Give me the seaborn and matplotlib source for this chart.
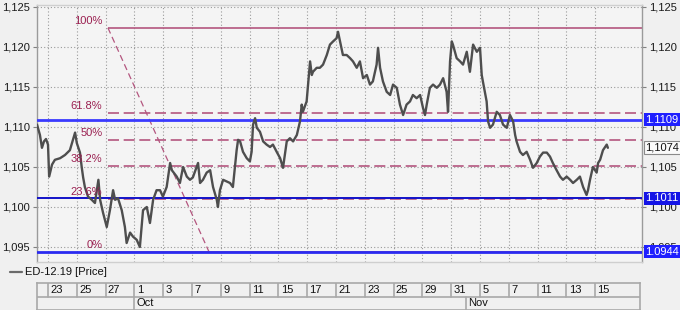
import matplotlib
matplotlib.use("Agg")
import matplotlib.pyplot as plt
import seaborn as sns
import pandas as pd
from matplotlib.ticker import FuncFormatter

# ---------------- data ----------------
# time position (in date-label steps, 0 = "23" Sep) and price
bar_pos = [-0.38, -0.28, -0.21, -0.14, -0.07, 0.0, 0.04, 0.14, 0.24, 0.42, 0.59, 0.76, 0.94, 1.0,
           1.11, 1.17, 1.22, 1.28, 1.39, 1.52, 1.63, 1.75, 1.81, 1.91, 2.04, 2.15, 2.26, 2.33,
           2.43, 2.56, 2.67, 2.73, 2.85, 2.95, 3.08, 3.19, 3.30, 3.43, 3.54, 3.65, 3.77, 3.89,
           3.99, 4.12, 4.24, 4.30, 4.47, 4.58, 4.69, 4.82, 4.93, 5.03, 5.21, 5.28, 5.38, 5.51,
           5.63, 5.73, 5.86, 5.90, 5.97, 6.08, 6.20, 6.32, 6.42, 6.49, 6.55, 6.60, 6.67, 6.77,
           6.90, 7.01, 7.07, 7.12, 7.19, 7.25, 7.36, 7.47, 7.59, 7.71, 7.81, 7.94, 8.06, 8.16,
           8.29, 8.40, 8.51, 8.64, 8.75, 8.81, 8.85, 8.98, 9.10, 9.16, 9.20, 9.33, 9.44, 9.55,
           9.68, 9.79, 9.90, 10.02, 10.07, 10.14, 10.24, 10.37, 10.49, 10.59, 10.72, 10.83,
           10.94, 11.07, 11.18, 11.28, 11.41, 11.46, 11.53, 11.63, 11.76, 11.88, 11.98, 12.11,
           12.22, 12.33, 12.45, 12.57, 12.67, 12.80, 12.92, 13.02, 13.09, 13.15, 13.26, 13.37,
           13.50, 13.61, 13.72, 13.84, 13.89, 13.96, 14.02, 14.06, 14.19, 14.31, 14.41, 14.54,
           14.65, 14.76, 14.89, 15.0, 15.06, 15.10, 15.23, 15.28, 15.35, 15.45, 15.58, 15.69,
           15.80, 15.93, 16.04, 16.15, 16.22, 16.27, 16.39, 16.49, 16.62, 16.74, 16.84, 16.97,
           17.08, 17.19, 17.32, 17.43, 17.53, 17.66, 17.78, 17.88, 18.01, 18.13, 18.23, 18.36,
           18.47, 18.58, 18.70, 18.75, 18.82, 18.92, 19.05, 19.10, 19.17, 19.27, 19.40, 19.44]
price = [1.1103, 1.1090, 1.1074, 1.1082, 1.1085, 1.1078, 1.1038, 1.1053, 1.1059, 1.1061, 1.1065,
         1.1071, 1.1093, 1.1080, 1.1068, 1.1050, 1.1037, 1.1025, 1.1013, 1.1009, 1.1005, 1.1034,
         1.1009, 1.0993, 1.0975, 1.0996, 1.1021, 1.1009, 1.1011, 1.0996, 1.0975, 1.0955, 1.0968,
         1.0963, 1.0959, 1.0950, 1.0996, 1.1000, 1.0980, 1.1009, 1.1021, 1.1021, 1.1013, 1.1025,
         1.1055, 1.1046, 1.1038, 1.1030, 1.1050, 1.1038, 1.1034, 1.1037, 1.1055, 1.1030, 1.1034,
         1.1043, 1.1046, 1.1025, 1.1009, 1.1000, 1.1021, 1.1034, 1.1032, 1.1030, 1.1025, 1.1050,
         1.1071, 1.1084, 1.1082, 1.1069, 1.1061, 1.1057, 1.1069, 1.1103, 1.1111, 1.1099, 1.1094,
         1.1082, 1.1078, 1.1075, 1.1078, 1.1069, 1.1061, 1.1049, 1.1082, 1.1086, 1.1082, 1.1090,
         1.1107, 1.1128, 1.1119, 1.1132, 1.1182, 1.1165, 1.1169, 1.1174, 1.1174, 1.1178, 1.1190,
         1.1203, 1.1207, 1.1211, 1.1219, 1.1207, 1.1190, 1.1190, 1.1186, 1.1182, 1.1174, 1.1182,
         1.1161, 1.1165, 1.1153, 1.1157, 1.1178, 1.1199, 1.1174, 1.1157, 1.1144, 1.1140, 1.1153,
         1.1149, 1.1128, 1.1115, 1.1128, 1.1132, 1.1140, 1.1136, 1.1140, 1.1124, 1.1115, 1.1128,
         1.1149, 1.1153, 1.1149, 1.1153, 1.1161, 1.1144, 1.1119, 1.1182, 1.1207, 1.1203, 1.1186,
         1.1182, 1.1178, 1.1194, 1.1169, 1.1203, 1.1194, 1.1199, 1.1165, 1.1157, 1.1132, 1.1107,
         1.1099, 1.1103, 1.1119, 1.1115, 1.1103, 1.1099, 1.1115, 1.1107, 1.1090, 1.1082, 1.1069,
         1.1065, 1.1069, 1.1059, 1.1049, 1.1055, 1.1063, 1.1068, 1.1068, 1.1063, 1.1055, 1.1046,
         1.1038, 1.1034, 1.1038, 1.1034, 1.1030, 1.1034, 1.1038, 1.1025, 1.1015, 1.1021, 1.1034,
         1.1050, 1.1043, 1.1055, 1.1059, 1.1071, 1.1078, 1.1074]

day_labels = ["23", "25", "27", "1", "3", "7", "9", "11", "15", "17", "21", "23", "25", "29",
              "31", "5", "7", "11", "13", "15"]
month_labels = ["Oct", "Nov"]
month_starts = [3.0, 14.5]

y_ticks = [1.095, 1.100, 1.105, 1.110, 1.115, 1.120, 1.125]

blue_levels = [1.1109, 1.1011, 1.0944]
blue_texts = ["1.1109", "1.1011", "1.0944"]
last_price = 1.1074
last_text = "1,1074"

fib_low, fib_high = 1.0944, 1.1224
fib_ratios = [0.0, 0.236, 0.382, 0.5, 0.618, 1.0]
fib_texts = ["0%", "23.6%", "38.2%", "50%", "61.8%", "100%"]
fib_start, fib_end = 2.08, 5.59

series_name = "ED-12.19 [Price]"

# ---------------- style ----------------
sns.set_theme(style="white")
plt.rcParams['font.family'] = ['Liberation Sans', 'DejaVu Sans']
plt.rcParams['font.size'] = 8

W, H = 680, 310
fig = plt.figure(figsize=(W / 100, H / 100), dpi=100, facecolor='#f0f0f0')
ax = fig.add_axes([37 / W, 1 - 262 / H, 605 / W, 257 / H])
ax.set_facecolor('#f4f4f4')

xmin, xmax = -0.382, 20.625
ax.set_xlim(xmin, xmax)
ax.set_ylim(1.093125, 1.12525)

# grid
ax.set_yticks(y_ticks)
ax.set_xticks(range(len(day_labels)))
ax.grid(True, which='major', linestyle=(0, (1, 2)), color='#9a9a9a', linewidth=0.8)
ax.tick_params(axis='x', bottom=False, labelbottom=False)
ax.tick_params(axis='y', left=True, right=True, labelleft=True, labelright=True,
               length=3, width=0.8, color='#808080', labelsize=8, labelcolor='#1a1a1a', pad=2)
ax.yaxis.set_major_formatter(FuncFormatter(lambda v, p: f"{v:.3f}".replace('.', ',')))
for s in ['left', 'right']:
    ax.spines[s].set_color('#9a9a9a')
    ax.spines[s].set_linewidth(1.0)
for s in ['top', 'bottom']:
    ax.spines[s].set_color('#cfcfcf')
    ax.spines[s].set_linewidth(1.0)

# price series
df = pd.DataFrame({"t": bar_pos, "price": price})
sns.lineplot(data=df, x="t", y="price", ax=ax, color='#4e4e4e', linewidth=1.7,
             sort=False, estimator=None, label=series_name, zorder=4)
ax.set_xlabel("")
ax.set_ylabel("")
ax.get_legend().remove()

# blue horizontal lines
blue_cols = ['#3a3aff', '#1212c8', '#2a2af0']
blue_lw = [2.0, 1.4, 2.0]
for lvl, c, lw in zip(blue_levels, blue_cols, blue_lw):
    ax.axhline(lvl, color=c, linewidth=lw, zorder=3)

# fibonacci
fib_col = '#b4567f'
fib_txt_col = '#9a1f50'
for r, txt in zip(fib_ratios, fib_texts):
    lvl = fib_low + r * (fib_high - fib_low)
    if r in (0.0, 1.0):
        ax.plot([fib_start, xmax], [lvl, lvl], color=fib_col, linewidth=1.2, zorder=2,
                solid_capstyle='butt')
    else:
        ax.plot([fib_start, xmax], [lvl, lvl], color=fib_col, linewidth=1.2, zorder=2,
                linestyle=(0, (6.6, 2.8)))
    ax.annotate(txt, xy=(fib_start, lvl), xytext=(-4, 1.5), textcoords='offset points',
                ha='right', va='bottom', color=fib_txt_col, fontsize=8, zorder=5)
ax.plot([fib_start, xmax][:1] + [fib_end], [fib_high, fib_low], color=fib_col, linewidth=0.9,
        linestyle=(0, (5, 3)), zorder=2)

# right price boxes
ytr = ax.get_yaxis_transform()
box_bg = ['#1f1fff', '#1414e6', '#1f1fff']
for lvl, txt, bg in zip(blue_levels, blue_texts, box_bg):
    ax.text(1.0055, lvl, txt, transform=ytr, ha='left', va='center', color='white', fontsize=8,
            bbox=dict(boxstyle='square,pad=0.15', fc=bg, ec='none'), zorder=10, clip_on=False)
ax.text(1.0055, last_price, last_text, transform=ytr, ha='left', va='center', color='#111111',
        fontsize=8, bbox=dict(boxstyle='square,pad=0.15', fc='#fafafa', ec='#8a8a8a', lw=0.8),
        zorder=10, clip_on=False)

# legend row
leg_y = 1 - 272 / H
fig.add_artist(plt.Line2D([10 / W, 22 / W], [leg_y, leg_y], color='#6a6a6a', linewidth=1.6))
fig.text(25 / W, leg_y, series_name, ha='left', va='center', fontsize=8, color='#111111')

# date axis
ax2 = fig.add_axes([37 / W, 0, 603 / W, 27 / H])
ax2.set_facecolor('#f0f0f0')
ax2.set_xlim(xmin, xmin + (xmax - xmin) * 603 / 605)
ax2.set_ylim(0, 2)
ax2.set_xticks([])
ax2.set_yticks([])
for s in ax2.spines.values():
    s.set_color('#a8a8a8')
    s.set_linewidth(1.2)
ax2.axhline(1, color='#a8a8a8', linewidth=1.2)
for k, lab in enumerate(day_labels):
    ax2.plot([k, k], [1, 2], color='#a8a8a8', linewidth=1.2)
    ax2.text(k + 0.08, 1.47, lab, ha='left', va='center', fontsize=8, color='#111111')
for m, lab in zip(month_starts, month_labels):
    ax2.plot([m, m], [0, 1], color='#a8a8a8', linewidth=1.2)
    ax2.text(m + 0.08, 0.5, lab, ha='left', va='center', fontsize=8, color='#111111')

fig.savefig("out.png", dpi=100, facecolor=fig.get_facecolor())
